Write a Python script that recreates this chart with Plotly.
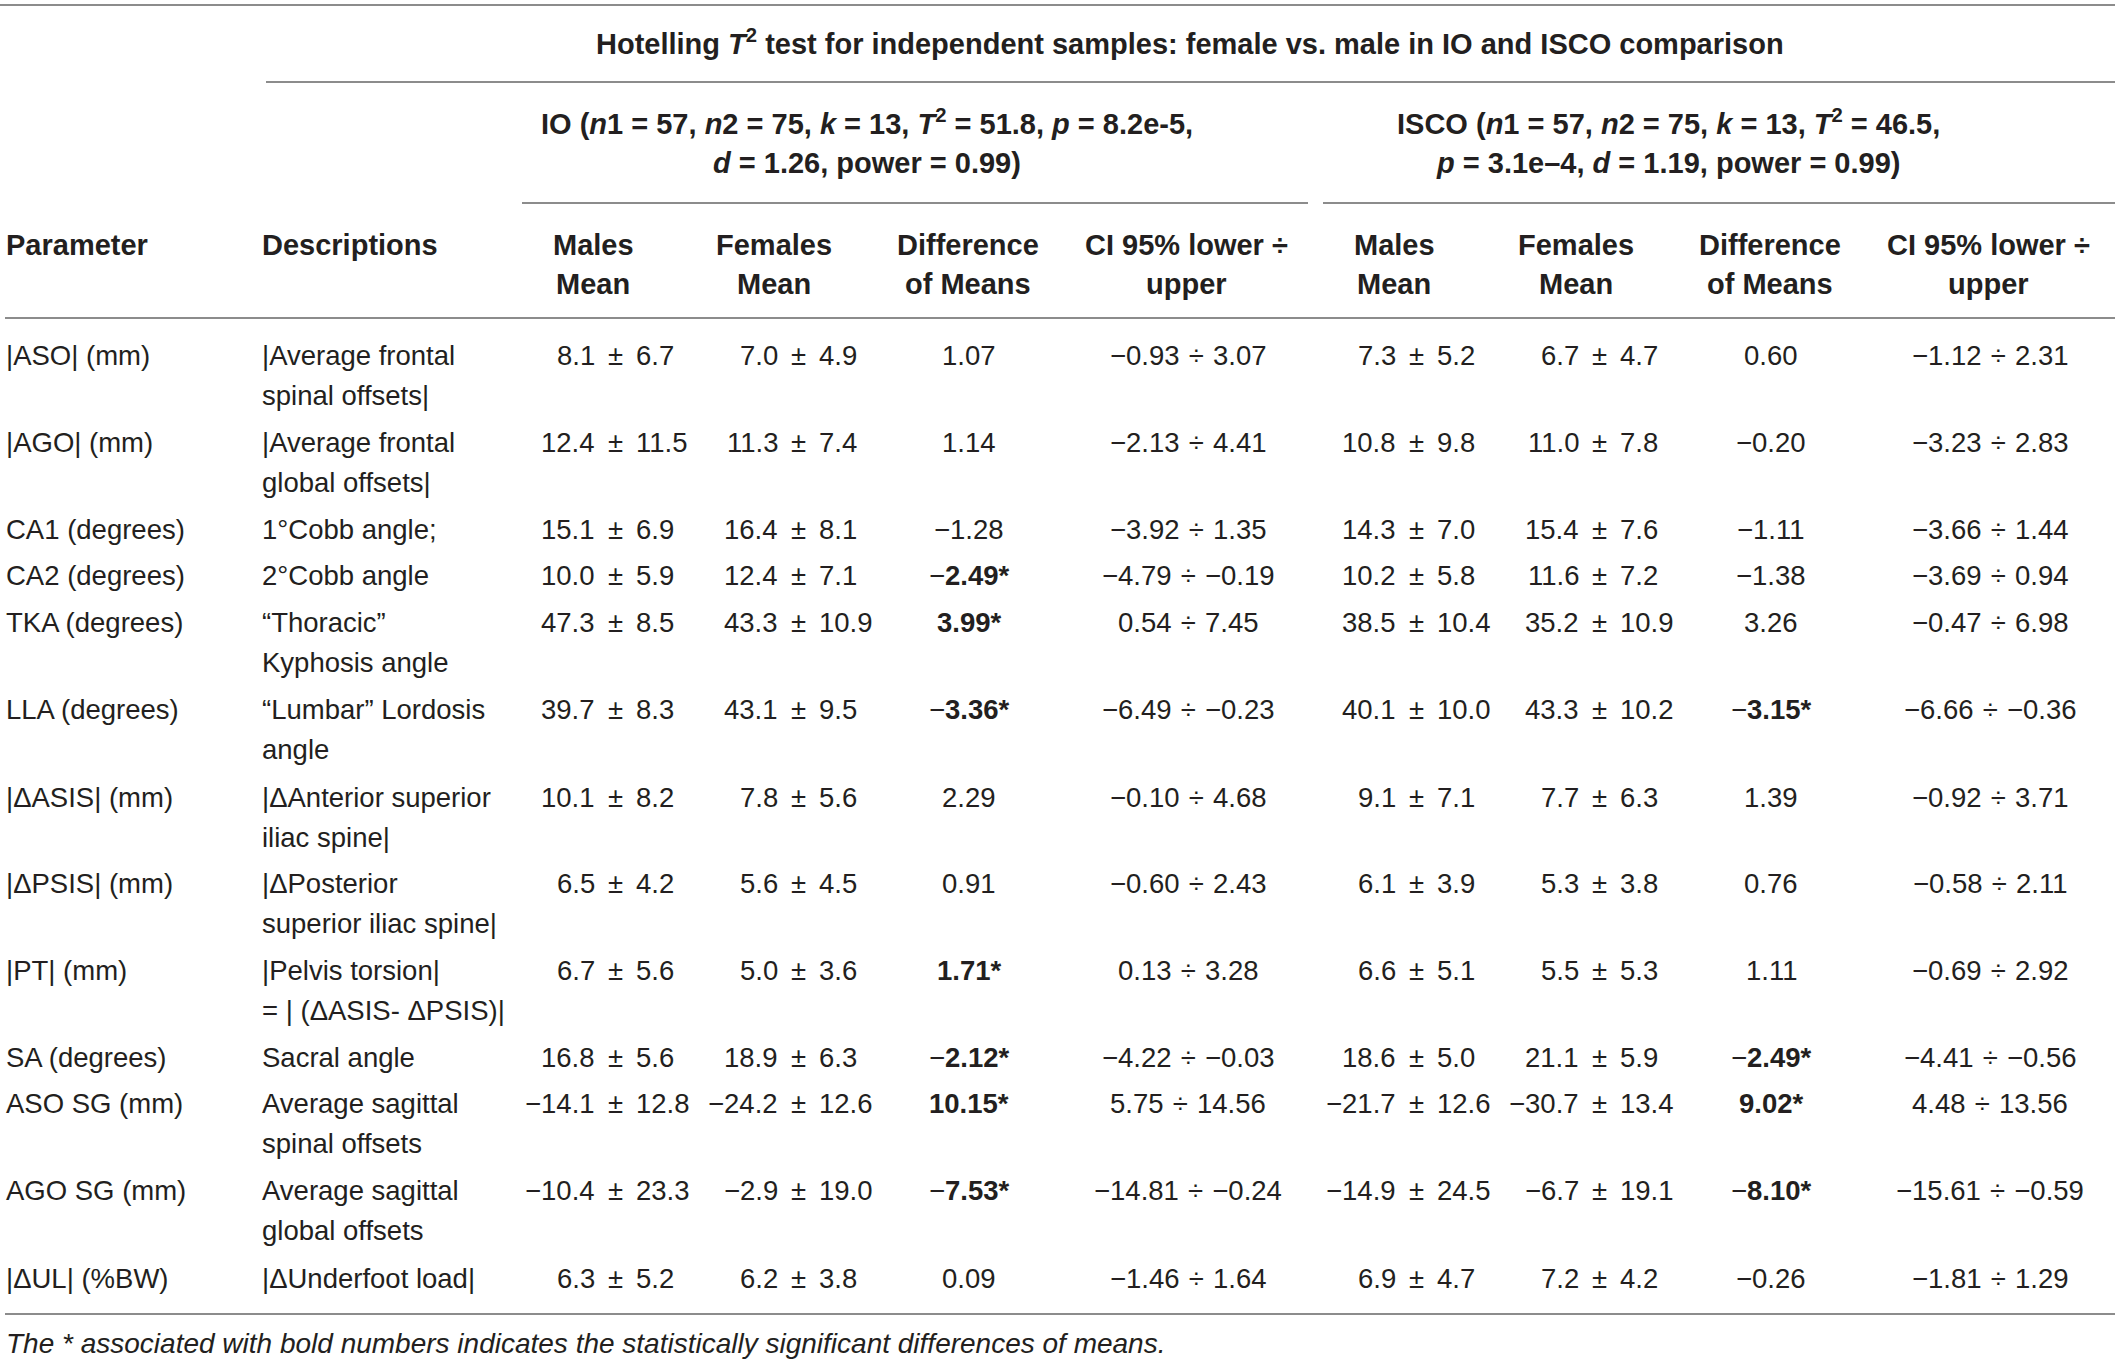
import plotly.graph_objects as go

# ---------------- data ----------------
parameters = ["|ASO| (mm)", "|AGO| (mm)", "CA1 (degrees)", "CA2 (degrees)", "TKA (degrees)",
              "LLA (degrees)", "|ΔASIS| (mm)", "|ΔPSIS| (mm)", "|PT| (mm)", "SA (degrees)",
              "ASO SG (mm)", "AGO SG (mm)", "|ΔUL| (%BW)"]
desc_line1 = ["|Average frontal", "|Average frontal", "1°Cobb angle;", "2°Cobb angle", "“Thoracic”",
              "“Lumbar” Lordosis", "|ΔAnterior superior", "|ΔPosterior", "|Pelvis torsion|",
              "Sacral angle", "Average sagittal", "Average sagittal", "|ΔUnderfoot load|"]
desc_line2 = ["spinal offsets|", "global offsets|", "", "", "Kyphosis angle", "angle", "iliac spine|",
              "superior iliac spine|", "= | (ΔASIS- ΔPSIS)|", "", "spinal offsets", "global offsets", ""]

io_male_mean = [8.1, 12.4, 15.1, 10.0, 47.3, 39.7, 10.1, 6.5, 6.7, 16.8, -14.1, -10.4, 6.3]
io_male_sd = [6.7, 11.5, 6.9, 5.9, 8.5, 8.3, 8.2, 4.2, 5.6, 5.6, 12.8, 23.3, 5.2]
io_female_mean = [7.0, 11.3, 16.4, 12.4, 43.3, 43.1, 7.8, 5.6, 5.0, 18.9, -24.2, -2.9, 6.2]
io_female_sd = [4.9, 7.4, 8.1, 7.1, 10.9, 9.5, 5.6, 4.5, 3.6, 6.3, 12.6, 19.0, 3.8]
io_diff = [1.07, 1.14, -1.28, -2.49, 3.99, -3.36, 2.29, 0.91, 1.71, -2.12, 10.15, -7.53, 0.09]
io_sig = [False, False, False, True, True, True, False, False, True, True, True, True, False]
io_ci_low = [-0.93, -2.13, -3.92, -4.79, 0.54, -6.49, -0.10, -0.60, 0.13, -4.22, 5.75, -14.81, -1.46]
io_ci_up = [3.07, 4.41, 1.35, -0.19, 7.45, -0.23, 4.68, 2.43, 3.28, -0.03, 14.56, -0.24, 1.64]

isco_male_mean = [7.3, 10.8, 14.3, 10.2, 38.5, 40.1, 9.1, 6.1, 6.6, 18.6, -21.7, -14.9, 6.9]
isco_male_sd = [5.2, 9.8, 7.0, 5.8, 10.4, 10.0, 7.1, 3.9, 5.1, 5.0, 12.6, 24.5, 4.7]
isco_female_mean = [6.7, 11.0, 15.4, 11.6, 35.2, 43.3, 7.7, 5.3, 5.5, 21.1, -30.7, -6.7, 7.2]
isco_female_sd = [4.7, 7.8, 7.6, 7.2, 10.9, 10.2, 6.3, 3.8, 5.3, 5.9, 13.4, 19.1, 4.2]
isco_diff = [0.60, -0.20, -1.11, -1.38, 3.26, -3.15, 1.39, 0.76, 1.11, -2.49, 9.02, -8.10, -0.26]
isco_sig = [False, False, False, False, False, True, False, False, False, True, True, True, False]
isco_ci_low = [-1.12, -3.23, -3.66, -3.69, -0.47, -6.66, -0.92, -0.58, -0.69, -4.41, 4.48, -15.61, -1.81]
isco_ci_up = [2.31, 2.83, 1.44, 0.94, 6.98, -0.36, 3.71, 2.11, 2.92, -0.56, 13.56, -0.59, 1.29]

title_text = "Hotelling <i>T</i><sup>2</sup> test for independent samples: female vs. male in IO and ISCO comparison"
io_head = ["IO (<i>n</i>1 = 57, <i>n</i>2 = 75, <i>k</i> = 13, <i>T</i><sup>2</sup> = 51.8, <i>p</i> = 8.2e-5,",
           "<i>d</i> = 1.26, power = 0.99)"]
isco_head = ["ISCO (<i>n</i>1 = 57, <i>n</i>2 = 75, <i>k</i> = 13, <i>T</i><sup>2</sup> = 46.5,",
             "<i>p</i> = 3.1e–4, <i>d</i> = 1.19, power = 0.99)"]
col_heads = [("Males", "Mean"), ("Females", "Mean"), ("Difference", "of Means"), ("CI 95% lower ÷", "upper")]
footnote = "<i>The * associated with bold numbers indicates the statistically significant differences of means.</i>"

# ---------------- layout constants ----------------
W, H = 2118, 1361
FONT = "Liberation Sans, Arial, Helvetica, sans-serif"
FS = 27.5
FSB = 29
TXT = "#231f20"
LINE = "#8c8c8c"
row_y = [355, 442, 529, 575, 622, 709, 797, 883, 970, 1057, 1103, 1190, 1278]
LINE2 = 40
PARAM_X, DESC_X = 6, 262
PM_L, PM_R = 20, 21
SP = "\u2004"
MINUS = "\u2212"
groups = [
    dict(m_pm=615, f_pm=798, diff=969, ci=1188, head_x=[593, 774, 968, 1186]),
    dict(m_pm=1416, f_pm=1599, diff=1771, ci=1990, head_x=[1394, 1576, 1770, 1988]),
]


def num(v, d):
    s = f"{v:.{d}f}"
    return s.replace("-", MINUS)


ann = []


def add(x, y, text, anchor="center", bold=False, size=None):
    if size is None:
        size = FSB if bold else FS
    ann.append(dict(x=x, y=y, xref="x", yref="y", text=(f"<b>{text}</b>" if bold else text),
                    showarrow=False, xanchor=anchor, yanchor="middle", borderpad=0, borderwidth=0,
                    font=dict(family=FONT, size=size, color=TXT)))


# title and spanners
add(1190, 42, title_text, bold=True)
add(867, 122, io_head[0], bold=True)
add(867, 163, io_head[1], bold=True)
add(1668, 122, isco_head[0], bold=True)
add(1668, 163, isco_head[1], bold=True)

# column headers
add(PARAM_X, 245, "Parameter", anchor="left", bold=True)
add(DESC_X, 245, "Descriptions", anchor="left", bold=True)
for g in groups:
    for hx, (l1, l2) in zip(g["head_x"], col_heads):
        add(hx, 245, l1, bold=True)
        add(hx, 284, l2, bold=True)

# body
data_sets = [
    (io_male_mean, io_male_sd, io_female_mean, io_female_sd, io_diff, io_sig, io_ci_low, io_ci_up),
    (isco_male_mean, isco_male_sd, isco_female_mean, isco_female_sd, isco_diff, isco_sig, isco_ci_low, isco_ci_up),
]
for i, y in enumerate(row_y):
    add(PARAM_X, y, parameters[i], anchor="left")
    add(DESC_X, y, desc_line1[i], anchor="left")
    if desc_line2[i]:
        add(DESC_X, y + LINE2, desc_line2[i], anchor="left")
    for g, (mm, ms, fm, fsd, df, sg, cl, cu) in zip(groups, data_sets):
        for pm, mean, sd in ((g["m_pm"], mm[i], ms[i]), (g["f_pm"], fm[i], fsd[i])):
            add(pm - PM_L, y, num(mean, 1), anchor="right")
            add(pm, y, "±")
            add(pm + PM_R, y, num(sd, 1), anchor="left")
        d = df[i]
        if sg[i]:
            txt = (MINUS if d < 0 else "") + f"<b>{abs(d):.2f}*</b>"
        else:
            txt = num(d, 2)
        add(g["diff"], y, txt)
        add(g["ci"], y, f"{num(cl[i], 2)}{SP}÷{SP}{num(cu[i], 2)}")

add(PARAM_X, 1343, footnote, anchor="left", size=28)

shapes = []
for x0, x1, y in [(0, 2115, 5), (266, 2115, 82), (522, 1308, 203), (1323, 2115, 203),
                  (5, 2115, 318), (5, 2115, 1314)]:
    shapes.append(dict(type="line", xref="x", yref="y", x0=x0, x1=x1, y0=y, y1=y,
                       line=dict(color=LINE, width=2)))

fig = go.Figure()
fig.add_trace(go.Scatter(x=[0, W], y=[0, H], mode="markers", marker=dict(opacity=0), hoverinfo="skip",
                         showlegend=False))
fig.update_layout(
    width=W, height=H, margin=dict(l=0, r=0, t=0, b=0),
    paper_bgcolor="white", plot_bgcolor="white",
    xaxis=dict(range=[0, W], visible=False, fixedrange=True),
    yaxis=dict(range=[H, 0], visible=False, fixedrange=True),
    annotations=ann, shapes=shapes, showlegend=False,
)
fig.write_html("out.html", post_script="document.body.style.margin='0';document.body.style.overflow='hidden';",
               config={"displayModeBar": False})
